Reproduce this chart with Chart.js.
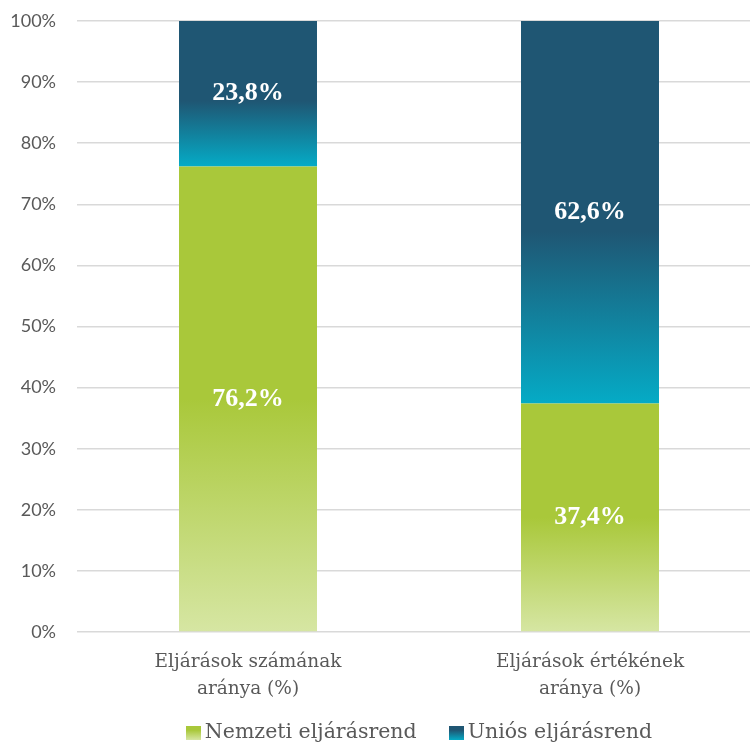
<!DOCTYPE html>
<html>
<head>
<meta charset="utf-8">
<script src="https://cdn.jsdelivr.net/npm/chart.js"></script>
<style>
  html, body { margin: 0; padding: 0; overflow: hidden; background: #fff; }
  #wrap { position: relative; width: 761px; height: 744px; }
  #legend { position: absolute; left: 77px; width: 684px; top: 717px; display: flex; justify-content: center;
    font: 20.5px "DejaVu Serif", serif; color: #595959; line-height: 28px; }
  #legend .item { display: flex; align-items: center; margin: 0 16px; }
  #legend .box { display: inline-block; width: 15px; height: 14px; margin-right: 4px; margin-top: 3px; }
</style>
</head>
<body>
<div id="wrap">
  <canvas id="chart" width="761" height="744"></canvas>
  <div id="legend"></div>
</div>
<script>
var categories = [['Eljárások számának', 'aránya (%)'], ['Eljárások értékének', 'aránya (%)']];
var seriesNames = ['Nemzeti eljárásrend', 'Uniós eljárásrend'];
var nemzeti = [76.2, 37.4];
var unios = [23.8, 62.6];
var yTicks = [0, 10, 20, 30, 40, 50, 60, 70, 80, 90, 100];

var greenStops = [[0, '#d6e6a3'], [0.5, '#a9c83a'], [1, '#a9c83a']];
var blueStops = [[0, '#05abc6'], [0.45, '#1f5673'], [1, '#1f5673']];

// gradient over one bar segment, from its bottom to its top
function segGradient(context, fromArr, toArr, stops, solid) {
  var chart = context.chart;
  if (context.type !== 'data' || !chart.chartArea || !chart.scales.y) return solid;
  var i = context.dataIndex;
  var from = fromArr ? fromArr[i] : 0;
  var to = from + toArr[i];
  var y0 = chart.scales.y.getPixelForValue(from);
  var y1 = chart.scales.y.getPixelForValue(to);
  var g = chart.ctx.createLinearGradient(0, y0, 0, y1);
  stops.forEach(function(s) { g.addColorStop(s[0], s[1]); });
  return g;
}

var barLabels = {
  id: 'barLabels',
  afterDatasetsDraw: function(chart) {
    var ctx = chart.ctx;
    ctx.save();
    ctx.font = 'bold 26px "Liberation Serif"';
    ctx.fillStyle = '#ffffff';
    ctx.textAlign = 'center';
    ctx.textBaseline = 'middle';
    chart.data.datasets.forEach(function(ds, di) {
      chart.getDatasetMeta(di).data.forEach(function(bar, i) {
        var txt = ds.data[i].toFixed(1).replace('.', ',') + '%';
        ctx.fillText(txt, bar.x, (bar.y + bar.base) / 2);
      });
    });
    ctx.restore();
  }
};

var chart = new Chart(document.getElementById('chart'), {
  type: 'bar',
  data: {
    labels: categories,
    datasets: [
      {
        label: seriesNames[0],
        data: nemzeti,
        backgroundColor: function(c) { return segGradient(c, null, nemzeti, greenStops, '#a9c83a'); }
      },
      {
        label: seriesNames[1],
        data: unios,
        backgroundColor: function(c) { return segGradient(c, nemzeti, unios, blueStops, '#1f5673'); }
      }
    ]
  },
  options: {
    responsive: false,
    devicePixelRatio: 1,
    animation: false,
    layout: { padding: { top: 21, left: 0, right: 0, bottom: 0 } },
    datasets: { bar: { categoryPercentage: 1, barPercentage: 0.4035 } },
    plugins: { legend: { display: false }, tooltip: { enabled: false } },
    scales: {
      x: {
        stacked: true,
        grid: { display: false, drawTicks: false },
        border: { display: false },
        ticks: { color: '#595959', padding: 17, font: { family: 'DejaVu Serif', size: 18.5, lineHeight: 27 / 18.5 } },
        afterFit: function(s) { s.height = 112; }
      },
      y: {
        stacked: true,
        min: 0,
        max: 100,
        afterBuildTicks: function(s) { s.ticks = yTicks.map(function(v) { return { value: v }; }); },
        grid: { color: '#d9d9d9', lineWidth: 1.5, drawTicks: false },
        border: { display: false },
        ticks: {
          color: '#595959',
          padding: 21,
          font: { family: 'Lato', size: 18 },
          callback: function(v) { return v + '%'; }
        },
        afterFit: function(s) {
          s.width = 77;
          s.paddingTop = 10;
          s.paddingBottom = 10;
        }
      }
    }
  },
  plugins: [barLabels]
});
chart.update();

// legend built from the dataset names
var legendColors = [
  'linear-gradient(to top, #d6e6a3, #a9c83a 70%)',
  'linear-gradient(to top, #05abc6, #1f5673 70%)'
];
var legend = document.getElementById('legend');
seriesNames.forEach(function(name, i) {
  var item = document.createElement('span');
  item.className = 'item';
  var box = document.createElement('span');
  box.className = 'box';
  box.style.background = legendColors[i];
  item.appendChild(box);
  item.appendChild(document.createTextNode(name));
  legend.appendChild(item);
});
</script>
</body>
</html>
